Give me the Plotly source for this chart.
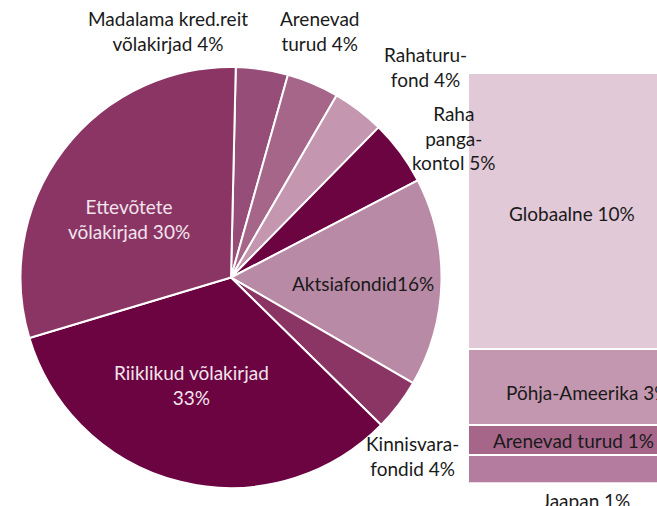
import plotly.graph_objects as go

W, H = 657, 506

# ---- data ----
pie_labels = ["Madalama kred.reit<br>võlakirjad", "Arenevad<br>turud", "Rahaturu-<br>fond",
              "Raha<br>panga-<br>kontol", "Aktsiafondid", "Kinnisvara-<br>fondid",
              "Riiklikud võlakirjad<br>", "Ettevõtete<br>võlakirjad"]
pie_values = [4, 4, 4, 5, 16, 4, 33, 30]
pie_colors = ["#964D78", "#A5668A", "#C496B0", "#6C0442", "#B98AA6", "#8B3565", "#6C0442", "#8B3565"]

bar_labels = ["Jaapan", "Arenevad turud", "Põhja-Ameerika", "Globaalne"]
bar_values = [1.0, 1.1, 2.8, 10.1]
bar_pct = [1, 1, 3, 10]
bar_colors = ["#B47C9E", "#A5668A", "#C497B0", "#E2C9D7"]

FONT = "Lato"
FS = 19

fig = go.Figure()

# pie geometry (pixels -> paper fractions)
pie_left, pie_right, pie_top, pie_bottom = 20, 442, 67, 488
fig.add_trace(go.Pie(
    labels=pie_labels, values=pie_values, sort=False, direction="clockwise",
    rotation=1.3, marker=dict(colors=pie_colors, line=dict(color="white", width=2)),
    textinfo="none", hoverinfo="label+percent", showlegend=False,
    domain=dict(x=[pie_left / W, pie_right / W], y=[1 - pie_bottom / H, 1 - pie_top / H]),
))

for lab, val, col in zip(bar_labels, bar_values, bar_colors):
    fig.add_trace(go.Bar(
        x=[0], y=[val], name=lab, width=1, marker=dict(color=col, line=dict(color="white", width=2)),
        xaxis="x2", yaxis="y2", showlegend=False, hoverinfo="name+y",
    ))

bar_left, bar_top, bar_bottom = 468, 73, 482.5
fig.update_layout(
    width=W, height=H, margin=dict(l=0, r=0, t=0, b=0),
    paper_bgcolor="white", plot_bgcolor="white", barmode="stack",
    font=dict(family=FONT, size=FS, color="#1A1A1A"),
    xaxis2=dict(domain=[bar_left / W, 1], range=[-0.5, -0.5 + 189 / 222], visible=False, fixedrange=True),
    yaxis2=dict(domain=[1 - bar_bottom / H, 1 - bar_top / H], range=[0, sum(bar_values)], visible=False, fixedrange=True),
)

def px(x, y):
    return x / W, 1 - y / H

annotations = []
pie_label_pos = [(168, 31.5, "#1A1A1A"), (320, 31.5, "#1A1A1A"), (425.5, 66.5, "#1A1A1A"),
                 (454, 137.5, "#1A1A1A"), (363, 283, "#1A1A1A"), (412, 456, "#1A1A1A"),
                 (191, 384.5, "#F2E4EC"), (128.5, 218.5, "#F2E4EC")]
for lab, val, (x, y, c) in zip(pie_labels, pie_values, pie_label_pos):
    if lab == "Aktsiafondid" or lab.endswith("<br>"):
        txt = f"{lab}{val}%"
    else:
        txt = f"{lab} {val}%"
    ax, ay = px(x, y)
    annotations.append(dict(text=txt, x=ax, y=ay, xref="paper", yref="paper", showarrow=False,
                            xanchor="center", yanchor="middle", font=dict(color=c, size=FS, family=FONT)))

bar_label_pos = [(586, 500, "center"), (573, 440, "center"), (504, 392, "left"), (572, 213, "center")]
for lab, p, (x, y, anc) in zip(bar_labels, bar_pct, bar_label_pos):
    ax, ay = px(x, y)
    annotations.append(dict(text=f"{lab} {p}%", x=ax, y=ay, xref="paper", yref="paper", showarrow=False,
                            xanchor=anc, yanchor="middle", font=dict(color="#1A1A1A", size=FS, family=FONT)))

fig.update_layout(annotations=annotations)
fig.write_html("out.html", config={"displayModeBar": False},
               post_script="document.body.style.margin='0';document.body.style.overflow='hidden';")
